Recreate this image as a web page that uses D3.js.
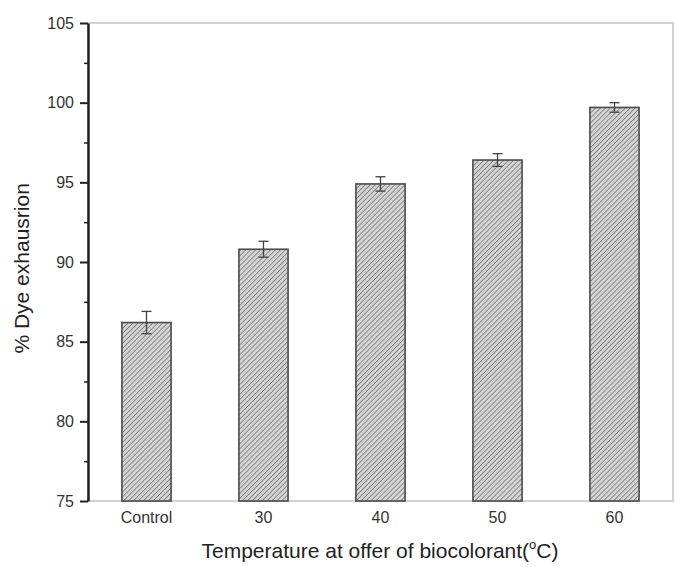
<!DOCTYPE html>
<html>
<head>
<meta charset="utf-8">
<script src="https://cdn.jsdelivr.net/npm/d3@7"></script>
<style>
  body { margin: 0; background: #fff; }
  svg { font-family: "Liberation Sans", Arial, sans-serif; }
</style>
</head>
<body>
<svg id="chart"></svg>
<script>
const categories = ['Control', '30', '40', '50', '60'];
const values = [86.2, 90.8, 94.9, 96.4, 99.7];
const errors = [0.7, 0.5, 0.45, 0.4, 0.3];
const yTicks = [75, 80, 85, 90, 95, 100, 105];
const yMinorTicks = [77.5, 82.5, 87.5, 92.5, 97.5, 102.5];

const width = 675, height = 567;
const margin = {top: 23, right: 2, bottom: 66, left: 88};

const svg = d3.select('#chart')
      .attr('width', width)
      .attr('height', height);

// hatch pattern for bars
const pat = svg.append('defs').append('pattern')
      .attr('id', 'hatch')
      .attr('patternUnits', 'userSpaceOnUse')
      .attr('width', 3.5)
      .attr('height', 3.5)
      .attr('patternTransform', 'rotate(45)');
pat.append('rect')
      .attr('width', 3.5).attr('height', 3.5)
      .attr('fill', '#d6d6d6');
pat.append('line')
      .attr('x1', 0).attr('y1', 0).attr('x2', 0).attr('y2', 3.5)
      .attr('stroke', '#7e7e7e')
      .attr('stroke-width', 1.8);

const xscale = d3.scaleBand()
      .domain(categories)
      .range([margin.left, width - margin.right])
      .paddingInner(0.58)
      .paddingOuter(0.29);

const yscale = d3.scaleLinear()
      .domain([75, 105])
      .range([height - margin.bottom, margin.top]);

// frame (top / right / bottom light gray)
svg.append('rect')
      .attr('x', margin.left)
      .attr('y', margin.top)
      .attr('width', width - margin.right - margin.left)
      .attr('height', height - margin.bottom - margin.top)
      .attr('fill', 'none')
      .attr('stroke', '#c4c4c4')
      .attr('stroke-width', 1.5);

// bars
svg.selectAll('rect.bar')
      .data(values)
      .join('rect')
      .attr('class', 'bar')
      .attr('x', (d, i) => xscale(categories[i]))
      .attr('y', d => yscale(d))
      .attr('width', xscale.bandwidth())
      .attr('height', d => yscale(75) - yscale(d))
      .attr('fill', 'url(#hatch)')
      .attr('stroke', '#4a4a4a')
      .attr('stroke-width', 1.6);

// error bars
const err = svg.selectAll('g.err')
      .data(values)
      .join('g')
      .attr('class', 'err')
      .attr('transform', (d, i) => `translate(${xscale(categories[i]) + xscale.bandwidth() / 2}, 0)`);
err.append('line')
      .attr('x1', 0).attr('x2', 0)
      .attr('y1', (d, i) => yscale(d + errors[i]))
      .attr('y2', (d, i) => yscale(d - errors[i]))
      .attr('stroke', '#444').attr('stroke-width', 1.3);
err.append('line')
      .attr('x1', -5).attr('x2', 5)
      .attr('y1', (d, i) => yscale(d + errors[i]))
      .attr('y2', (d, i) => yscale(d + errors[i]))
      .attr('stroke', '#444').attr('stroke-width', 1.3);
err.append('line')
      .attr('x1', -5).attr('x2', 5)
      .attr('y1', (d, i) => yscale(d - errors[i]))
      .attr('y2', (d, i) => yscale(d - errors[i]))
      .attr('stroke', '#444').attr('stroke-width', 1.3);

// y axis
const yaxis = d3.axisLeft(yscale)
      .tickValues(yTicks)
      .tickSize(8)
      .tickPadding(6)
      .tickSizeOuter(0);
const yg = svg.append('g')
      .attr('transform', `translate(${margin.left}, 0)`)
      .call(yaxis);
yg.select('.domain').attr('stroke', '#222').attr('stroke-width', 2.5);
yg.selectAll('.tick line').attr('stroke', '#222').attr('stroke-width', 2);
yg.selectAll('.tick text')
      .style('font-size', '16px')
      .attr('fill', '#333');

const ym = d3.axisLeft(yscale)
      .tickValues(yMinorTicks)
      .tickSize(4)
      .tickFormat('')
      .tickSizeOuter(0);
const ymg = svg.append('g')
      .attr('transform', `translate(${margin.left}, 0)`)
      .call(ym);
ymg.select('.domain').remove();
ymg.selectAll('.tick line').attr('stroke', '#222').attr('stroke-width', 1.5);

// x axis labels
const xaxis = d3.axisBottom(xscale)
      .tickSize(0)
      .tickPadding(11)
      .tickSizeOuter(0);
const xg = svg.append('g')
      .attr('transform', `translate(0, ${height - margin.bottom})`)
      .call(xaxis);
xg.select('.domain').remove();
xg.selectAll('.tick text')
      .style('font-size', '16px')
      .attr('fill', '#333');

// axis titles
svg.append('text')
      .attr('transform', `translate(29, ${yscale(89.6)}) rotate(-90)`)
      .attr('text-anchor', 'middle')
      .style('font-size', '21px')
      .attr('fill', '#222')
      .text('% Dye exhausrion');

const xt = svg.append('text')
      .attr('x', 380)
      .attr('y', 558)
      .attr('text-anchor', 'middle')
      .style('font-size', '21px')
      .attr('fill', '#222');
xt.append('tspan').text('Temperature at offer of biocolorant(');
xt.append('tspan').attr('dy', -9).style('font-size', '13px').text('o');
xt.append('tspan').attr('dy', 9).text('C)');
</script>
</body>
</html>
